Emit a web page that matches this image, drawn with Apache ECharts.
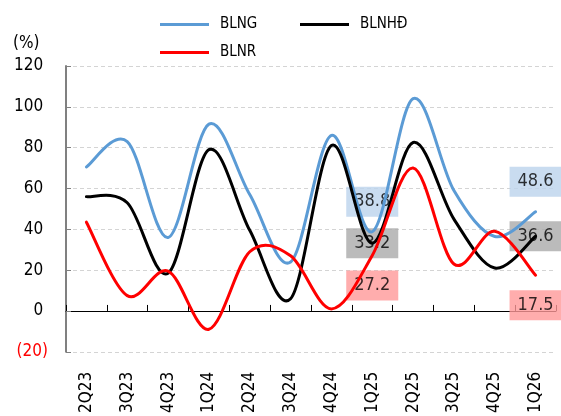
<!DOCTYPE html>
<html>
<head>
<meta charset="utf-8">
<script src="https://cdn.jsdelivr.net/npm/echarts@6/dist/echarts.min.js"></script>
<style>
  html, body { margin: 0; padding: 0; background: #fff; }
  #chart { width: 561px; height: 416px; }
</style>
</head>
<body>
<div id="chart"></div>
<script>
// Quarters on the category axis
const quarters = ['2Q23', '3Q23', '4Q23', '1Q24', '2Q24', '3Q24', '4Q24', '1Q25', '2Q25', '3Q25', '4Q25', '1Q26'];

// Margins (%)
const blng  = [70.5, 83, 36, 91.5, 57, 24, 86, 38.8, 104, 59, 36.5, 48.6];
const blnhd = [56, 53, 18.5, 79, 39.5, 6, 81, 33.2, 82.5, 45, 21, 36.6];
const blnr  = [43.5, 7.5, 19.5, -9, 29, 27, 1, 27.2, 70, 23, 39, 17.5];

// Y axis ticks
const yTicks = [-20, 0, 20, 40, 60, 80, 100, 120];

// Quarters whose values are printed in boxes
const labelledQuarters = ['1Q25', '1Q26'];

const FONT = 'DejaVu Sans Condensed, DejaVu Sans, sans-serif';
const COLORS = { blng: '#5b9bd5', blnhd: '#000000', blnr: '#ff0000' };

// Smooth curve through all points of a series (Catmull-Rom as cubic Bezier),
// positioned with the grid's own coordinate system.
function smoothSeries(name, values, color, z) {
  return {
    name: name,
    type: 'custom',
    z: z,
    silent: true,
    itemStyle: { color: color },
    data: values.map((v, i) => [i, v]),
    encode: { x: 0, y: 1 },
    renderItem: function (params, api) {
      if (params.dataIndex !== 0) return null;
      const pts = values.map((v, i) => api.coord([i, v]));
      const n = pts.length;
      const P = k => pts[Math.max(0, Math.min(n - 1, k))];
      let d = 'M' + pts[0][0] + ' ' + pts[0][1];
      for (let i = 0; i < n - 1; i++) {
        const p0 = P(i - 1), p1 = P(i), p2 = P(i + 1), p3 = P(i + 2);
        const c1x = p1[0] + (p2[0] - p0[0]) / 6, c1y = p1[1] + (p2[1] - p0[1]) / 6;
        const c2x = p2[0] - (p3[0] - p1[0]) / 6, c2y = p2[1] - (p3[1] - p1[1]) / 6;
        d += ' C' + c1x + ' ' + c1y + ' ' + c2x + ' ' + c2y + ' ' + p2[0] + ' ' + p2[1];
      }
      return {
        type: 'path',
        shape: { pathData: d },
        style: { fill: null, stroke: color, lineWidth: 3, lineCap: 'round', lineJoin: 'round' }
      };
    }
  };
}

function boxSeries(values, color, bg, dy) {
  return {
    type: 'scatter',
    name: 'box-' + color,
    symbolSize: 0,
    z: 1,
    silent: true,
    itemStyle: { color: color },
    data: labelledQuarters.map(q => {
      const i = quarters.indexOf(q);
      return [i, values[i]];
    }),
    label: {
      show: true,
      position: 'inside',
      offset: [0, dy],
      formatter: p => p.value[1].toFixed(1),
      fontFamily: FONT,
      fontSize: 18,
      lineHeight: 18,
      color: '#000',
      backgroundColor: bg,
      padding: [6, 8]
    }
  };
}

function legendBlock(name, left, top) {
  return {
    data: [name],
    left: left,
    top: top,
    padding: 0,
    icon: 'rect',
    itemWidth: 49,
    itemHeight: 3,
    selectedMode: false,
    textStyle: { fontFamily: FONT, fontSize: 15, color: '#000', padding: [0, 0, 0, 6] }
  };
}

const chart = echarts.init(document.getElementById('chart'), null, { renderer: 'canvas' });

chart.setOption({
  animation: false,
  backgroundColor: '#fff',
  title: {
    text: '(%)',
    left: 13,
    top: 35,
    padding: 0,
    textStyle: { fontFamily: FONT, fontSize: 17, fontWeight: 'normal', color: '#000' }
  },
  legend: [
    legendBlock('BLNG', 160, 17),
    legendBlock('BLNHĐ', 300, 17),
    legendBlock('BLNR', 160, 45)
  ],
  grid: { left: 66, right: 5, top: 66, bottom: 64, containLabel: false },
  xAxis: [
    {
      type: 'category',
      data: quarters,
      position: 'bottom',
      axisLine: { show: false, onZero: false },
      axisTick: { show: false },
      splitLine: { show: false },
      axisLabel: {
        rotate: 90,
        margin: 20,
        fontFamily: FONT,
        fontSize: 17,
        color: '#000'
      }
    },
    {
      type: 'category',
      data: quarters,
      position: 'bottom',
      axisLine: { show: true, onZero: true, lineStyle: { color: '#000', width: 1 } },
      axisTick: { show: true, inside: true, length: 6, lineStyle: { color: '#000' } },
      axisLabel: { show: false },
      splitLine: { show: false }
    }
  ],
  yAxis: {
    type: 'value',
    min: yTicks[0],
    max: yTicks[yTicks.length - 1],
    interval: 20,
    axisLine: { show: true, onZero: false, lineStyle: { color: '#808080', width: 2 } },
    axisTick: { show: true, inside: true, length: 5, lineStyle: { color: '#808080' } },
    splitLine: { show: true, lineStyle: { color: '#d4d4d4', type: [4, 3], width: 1 } },
    axisLabel: {
      margin: 18,
      fontFamily: FONT,
      fontSize: 17,
      color: v => (v < 0 ? '#ff0000' : '#000'),
      formatter: v => (v < 0 ? '(' + Math.abs(v) + ')' : v + ' ')
    }
  },
  series: [
    boxSeries(blng, COLORS.blng, '#bcd3ec', -30),
    boxSeries(blnhd, COLORS.blnhd, '#aaaaaa', 0),
    boxSeries(blnr, COLORS.blnr, '#ff9999', 30),
    smoothSeries('BLNG', blng, COLORS.blng, 3),
    smoothSeries('BLNHĐ', blnhd, COLORS.blnhd, 4),
    smoothSeries('BLNR', blnr, COLORS.blnr, 5)
  ]
});
</script>
</body>
</html>
